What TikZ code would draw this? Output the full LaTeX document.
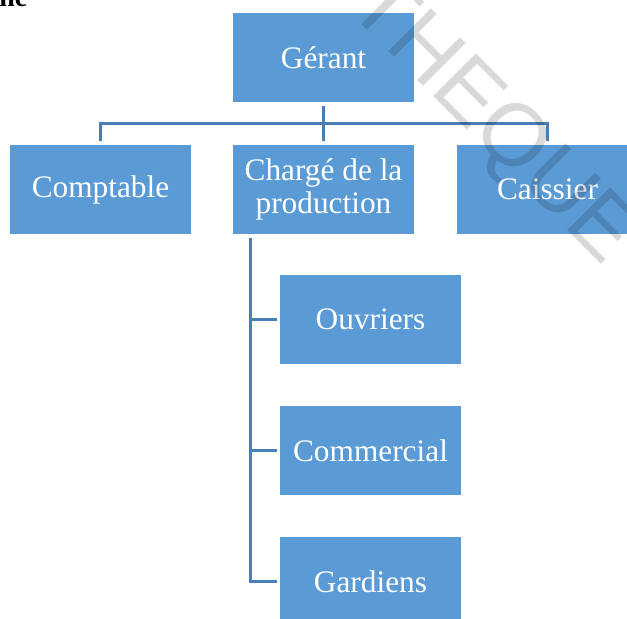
\documentclass[tikz,border=0pt]{standalone}
\usepackage{fontspec}
\setmainfont{Liberation Serif}
\newfontfamily\wmfont{Liberation Sans}
\usetikzlibrary{calc}
\definecolor{boxblue}{HTML}{5B9BD5}
\definecolor{lineblue}{HTML}{4A7EB5}
\begin{document}
\begin{tikzpicture}[x=0.75pt,y=-0.75pt,
  orgbox/.style={fill=boxblue, text=white, minimum width=135.75pt, minimum height=66.75pt,
    inner sep=0pt, align=center, font=\fontsize{23.5}{24.5}\selectfont},
  conn/.style={draw=lineblue, line width=2.1pt},
  wm/.style={inner sep=0pt, text=black, text opacity=0.15, font=\wmfont\fontsize{66}{66}\selectfont}]
\useasboundingbox (0,0) rectangle (627,618);
\clip (0,0) rectangle (627,618);
% boxes
\node[orgbox] (g)    at (323.5,57.5)  {Gérant};
\node[orgbox] (comp) at (100.5,189.5) {Comptable};
\node[orgbox] (chg)  at (323.5,189.5) {Chargé de la\\production};
\node[orgbox] (cais) at (547.5,189.5) {Caissier};
\node[orgbox] (ouv)  at (370.5,319.5) {Ouvriers};
\node[orgbox] (com)  at (370.5,450.5) {Commercial};
\node[orgbox] (gard) at (370.5,581.5) {Gardiens};
% connectors, top level
\coordinate (bus) at ($(g.south)!0.5!(chg.north)$);
\draw[conn, shorten <=2.5pt, shorten >=2.5pt] (g.south) -- (chg.north);
\draw[conn, shorten <=2.5pt, shorten >=2.5pt] (comp.north) |- (bus) -| (cais.north);
% connectors, second level
\coordinate (v0) at ([xshift=13.5pt]chg.south west);
\draw[conn, shorten <=2.5pt, shorten >=2pt] (v0) |- (gard.west);
\draw[conn, shorten >=2pt] (v0 |- ouv.west) -- (ouv.west);
\draw[conn, shorten >=2pt] (v0 |- com.west) -- (com.west);
% title fragment
\node[anchor=base west, inner sep=0pt, font=\bfseries\fontsize{21}{21}\selectfont] (ttl) at (-1,6) {ne};
% watermark
\node[wm, rotate=-45, anchor=base west] (mark) at (345,8) {THEQUE};
\end{tikzpicture}
\end{document}
